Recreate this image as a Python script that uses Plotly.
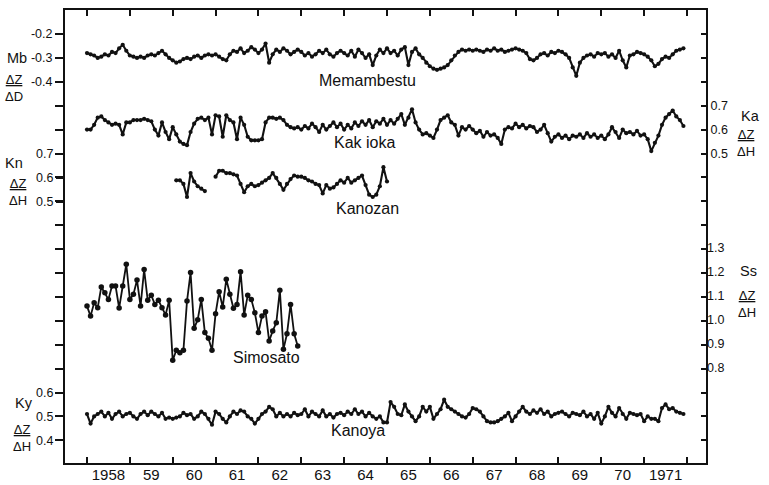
import numpy as np
import plotly.graph_objects as go

# ---------------- data (monthly means) ----------------
year_ticks = list(range(1958, 1973))
year_labels = ["1958", "59", "60", "61", "62", "63", "64", "65", "66", "67", "68", "69", "70", "1971"]

# Memambestu  dZ/dD
mb_start = 1958.0
mb_values = [
    -0.280, -0.285, -0.290, -0.300, -0.295, -0.285, -0.290, -0.275, -0.280, -0.260, -0.245, -0.270,
    -0.290, -0.295, -0.300, -0.295, -0.300, -0.290, -0.285, -0.290, -0.280, -0.270, -0.285, -0.300,
    -0.310, -0.320, -0.315, -0.305, -0.300, -0.305, -0.295, -0.290, -0.300, -0.290, -0.285, -0.290,
    -0.285, -0.295, -0.305, -0.310, -0.285, -0.270, -0.275, -0.260, -0.280, -0.270, -0.255, -0.265,
    -0.280, -0.265, -0.240, -0.320, -0.285, -0.265, -0.275, -0.260, -0.270, -0.285, -0.275, -0.265,
    -0.275, -0.290, -0.280, -0.295, -0.285, -0.270, -0.280, -0.265, -0.285, -0.295, -0.280, -0.270,
    -0.280, -0.290, -0.270, -0.295, -0.265, -0.280, -0.300, -0.285, -0.330, -0.290, -0.265, -0.280,
    -0.260, -0.280, -0.270, -0.290, -0.265, -0.255, -0.330, -0.275, -0.260, -0.285, -0.300, -0.320,
    -0.335, -0.345, -0.350, -0.345, -0.340, -0.330, -0.310, -0.290, -0.275, -0.265, -0.270, -0.265,
    -0.270, -0.265, -0.270, -0.275, -0.265, -0.270, -0.260, -0.270, -0.265, -0.275, -0.270, -0.265,
    -0.260, -0.265, -0.270, -0.280, -0.305, -0.310, -0.300, -0.285, -0.280, -0.290, -0.275, -0.280,
    -0.270, -0.275, -0.285, -0.300, -0.340, -0.375, -0.320, -0.300, -0.290, -0.285, -0.295, -0.280,
    -0.285, -0.280, -0.295, -0.285, -0.300, -0.270, -0.310, -0.340, -0.290, -0.285, -0.275, -0.280,
    -0.285, -0.295, -0.310, -0.335, -0.325, -0.305, -0.295, -0.300, -0.285, -0.270, -0.265, -0.260,
]

# Kakioka  dZ/dH
ka_start = 1958.0
ka_values = [
    0.600, 0.600, 0.620, 0.650, 0.655, 0.640, 0.630, 0.620, 0.625, 0.620, 0.580, 0.630,
    0.630, 0.640, 0.640, 0.640, 0.645, 0.640, 0.635, 0.600, 0.575, 0.630, 0.590, 0.560,
    0.610, 0.580, 0.550, 0.540, 0.535, 0.590, 0.625, 0.645, 0.650, 0.640, 0.650, 0.580,
    0.660, 0.655, 0.570, 0.660, 0.640, 0.630, 0.560, 0.650, 0.620, 0.570, 0.555, 0.555,
    0.555, 0.560, 0.630, 0.650, 0.650, 0.645, 0.650, 0.640, 0.620, 0.610, 0.605, 0.610,
    0.600, 0.615, 0.605, 0.625, 0.610, 0.590, 0.620, 0.600, 0.615, 0.630, 0.610, 0.625,
    0.600, 0.620, 0.605, 0.630, 0.615, 0.635, 0.620, 0.640, 0.610, 0.635, 0.625, 0.645,
    0.620, 0.640, 0.625, 0.645, 0.665, 0.620, 0.650, 0.685, 0.630, 0.600, 0.580, 0.585,
    0.575, 0.565, 0.600, 0.640, 0.650, 0.660, 0.630, 0.620, 0.575, 0.610, 0.600, 0.615,
    0.600, 0.585, 0.595, 0.570, 0.590, 0.575, 0.580, 0.565, 0.540, 0.600, 0.610, 0.605,
    0.625, 0.610, 0.620, 0.605, 0.615, 0.610, 0.590, 0.600, 0.620, 0.585, 0.550, 0.570,
    0.580, 0.565, 0.575, 0.560, 0.575, 0.570, 0.580, 0.565, 0.585, 0.570, 0.580, 0.565,
    0.575, 0.560, 0.580, 0.610, 0.590, 0.565, 0.600, 0.585, 0.590, 0.580, 0.595, 0.575,
    0.580, 0.560, 0.510, 0.545, 0.575, 0.620, 0.650, 0.665, 0.680, 0.655, 0.640, 0.615,
]

# Kanozan  dZ/dH  (starts Feb 1960, gap of two months)
kn_start = 1960.0 + 1 / 12
kn_values = [
    0.590, 0.590, 0.575, 0.520, 0.620, 0.585, 0.565, 0.555, 0.545,
    None, None,
    0.605, 0.630, 0.630, 0.620, 0.620, 0.615, 0.610, 0.575, 0.540, 0.565,
    0.575, 0.565, 0.570, 0.580, 0.590, 0.600, 0.620, 0.600, 0.575, 0.550,
    0.575, 0.595, 0.610, 0.605, 0.605, 0.600, 0.590, 0.585, 0.575, 0.570,
    0.535, 0.570, 0.555, 0.560, 0.575, 0.590, 0.580, 0.600, 0.580, 0.590,
    0.600, 0.610, 0.570, 0.530, 0.520, 0.530, 0.565, 0.645, 0.585,
]

# Simosato  dZ/dH
ss_start = 1958.0
ss_values = [
    1.057, 1.015, 1.071, 1.050, 1.137, 1.113, 1.085, 1.141, 1.141, 1.049, 1.141, 1.232,
    1.085, 1.106, 1.166, 1.057, 1.210, 1.081, 1.102, 1.064, 1.081, 1.050, 1.020, 1.081,
    0.830, 0.872, 0.862, 0.872, 1.078, 1.197, 0.964, 1.000, 1.085, 0.946, 0.922, 0.872,
    1.025, 1.117, 1.053, 1.169, 1.106, 1.048, 1.064, 1.201, 1.020, 1.102, 1.085, 1.029,
    0.946, 1.015, 1.033, 0.911, 0.953, 0.987, 1.123, 0.876, 0.941, 1.064, 0.941, 0.890,
]

# Kanoya  dZ/dH
ky_start = 1958.0
ky_values = [
    0.510, 0.470, 0.500, 0.510, 0.520, 0.500, 0.515, 0.490, 0.510, 0.520, 0.500, 0.510,
    0.515, 0.500, 0.490, 0.510, 0.520, 0.505, 0.520, 0.510, 0.500, 0.515, 0.490, 0.495,
    0.490, 0.495, 0.500, 0.515, 0.505, 0.510, 0.490, 0.500, 0.520, 0.510, 0.490, 0.465,
    0.520, 0.510, 0.490, 0.475, 0.500, 0.520, 0.510, 0.525, 0.520, 0.500, 0.490, 0.470,
    0.490, 0.510, 0.520, 0.540, 0.530, 0.500, 0.515, 0.500, 0.510, 0.500, 0.515, 0.505,
    0.510, 0.530, 0.500, 0.520, 0.510, 0.500, 0.525, 0.500, 0.510, 0.495, 0.510, 0.515,
    0.505, 0.520, 0.510, 0.530, 0.510, 0.520, 0.500, 0.515, 0.500, 0.490, 0.500, 0.475,
    0.475, 0.560, 0.540, 0.510, 0.505, 0.550, 0.520, 0.500, 0.480, 0.500, 0.540, 0.520,
    0.540, 0.490, 0.510, 0.530, 0.570, 0.540, 0.530, 0.520, 0.510, 0.500, 0.495, 0.510,
    0.535, 0.530, 0.520, 0.500, 0.480, 0.475, 0.475, 0.480, 0.490, 0.500, 0.515, 0.480,
    0.500, 0.520, 0.540, 0.520, 0.510, 0.525, 0.515, 0.530, 0.510, 0.520, 0.500, 0.510,
    0.515, 0.520, 0.510, 0.500, 0.515, 0.510, 0.505, 0.520, 0.500, 0.510, 0.490, 0.515,
    0.470, 0.500, 0.540, 0.515, 0.500, 0.535, 0.510, 0.490, 0.515, 0.510, 0.505, 0.510,
    0.480, 0.500, 0.490, 0.490, 0.480, 0.535, 0.550, 0.530, 0.535, 0.520, 0.515, 0.510,
]

# axis tick labels
mb_ticks = [-0.2, -0.3, -0.4]
kn_ticks = [0.7, 0.6, 0.5]
ky_ticks = [0.6, 0.5, 0.4]
ka_ticks = [0.7, 0.6, 0.5]
ss_ticks = [1.3, 1.2, 1.1, 1.0, 0.9, 0.8]

# ---------------- layout geometry (pixels) ----------------
W, H = 769, 485
PL, PR, PT, PB = 65, 706, 10, 463          # plot frame
PX_PER_UNIT = 239.0                         # 0.1 of any ratio = 23.9 px
PX_PER_YEAR = 600 / 14.0
X0_PX = 87                                  # pixel of 1 Jan 1958


def yrange(v_ref, px_ref):
    top = v_ref + (px_ref - PT) / PX_PER_UNIT
    bot = v_ref - (PB - px_ref) / PX_PER_UNIT
    return [bot, top]


xrange_ = [1958 - (X0_PX - PL) / PX_PER_YEAR, 1958 + (PR - X0_PX) / PX_PER_YEAR]
mb_range = yrange(-0.2, 34)
kn_range = yrange(0.7, 154)
ky_range = yrange(0.5, 416.4)
ka_range = yrange(0.7, 105.7)
ss_range = yrange(1.3, 248)


def px(x):
    return (x - PL) / (PR - PL)


def py(y):
    return (PB - y) / (PB - PT)


def months(start, n):
    return [start + i / 12 for i in range(n)]


INK = "#111111"
FONT = "Liberation Sans"

fig = go.Figure()


def add_series(vals, start, yaxis, msize=4.2, lw=2.1):
    fig.add_trace(go.Scatter(
        x=months(start, len(vals)), y=vals, xaxis="x", yaxis=yaxis,
        mode="lines+markers", connectgaps=False,
        line=dict(color=INK, width=lw), marker=dict(color=INK, size=msize),
        showlegend=False, hoverinfo="x+y"))


add_series(mb_values, mb_start, "y")
add_series(kn_values, kn_start, "y2")
add_series(ky_values, ky_start, "y3")
add_series(ka_values, ka_start, "y4")
add_series(ss_values, ss_start, "y5", msize=5.5, lw=1.8)

# left ticks: every 0.1 on the Mb scale
mb_all = [round(-0.2 - 0.1 * j, 2) for j in range(18)]
mb_text = [("%.1f" % v) if v in mb_ticks else "" for v in mb_all]
ka_all = [round(1.0 - 0.1 * j, 2) for j in range(18)]
ka_text = [("%.1f" % v) if v in ka_ticks else "" for v in ka_all]

tickfont = dict(family=FONT, size=12.5, color=INK)
common_y = dict(showgrid=False, zeroline=False, fixedrange=True, tickfont=tickfont, automargin=False)

fig.update_layout(
    width=W, height=H,
    margin=dict(l=PL, r=W - PR, t=PT, b=H - PB, pad=0),
    paper_bgcolor="white", plot_bgcolor="white",
    showlegend=False,
    xaxis=dict(range=xrange_, showgrid=False, zeroline=False, showline=True, linewidth=2,
               linecolor=INK, mirror="ticks",
               tickmode="array", tickvals=[y + 0.5 for y in year_ticks[:-1]], ticktext=year_labels,
               ticks="", ticklabelstandoff=-3, tickfont=dict(family=FONT, size=15, color=INK),
               minor=dict(tickmode="array", tickvals=year_ticks, ticks="inside", ticklen=6,
                          tickwidth=1.6, tickcolor=INK),
               automargin=False),
    yaxis=dict(range=mb_range, side="left", showline=True, linewidth=2, linecolor=INK,
               tickmode="array", tickvals=mb_all, ticktext=mb_text,
               ticks="outside", ticklen=8, tickwidth=1.6, tickcolor=INK, **common_y),
    yaxis2=dict(range=kn_range, overlaying="y", side="left", showline=False,
                tickmode="array", tickvals=kn_ticks, ticktext=["%.1f" % v for v in kn_ticks],
                ticks="outside", ticklen=8, tickwidth=1.6, tickcolor=INK, **common_y),
    yaxis3=dict(range=ky_range, overlaying="y", side="left", showline=False,
                tickmode="array", tickvals=ky_ticks, ticktext=["%.1f" % v for v in ky_ticks],
                ticks="outside", ticklen=8, tickwidth=1.6, tickcolor=INK, **common_y),
    yaxis4=dict(range=ka_range, overlaying="y", side="right", showline=True, linewidth=2,
                linecolor=INK, tickmode="array", tickvals=ka_all, ticktext=ka_text,
                ticks="inside", ticklen=5, tickwidth=1.6, tickcolor=INK, **common_y),
    yaxis5=dict(range=ss_range, overlaying="y", side="right", showline=False,
                tickmode="array", tickvals=ss_ticks, ticktext=["%.1f" % v for v in ss_ticks],
                ticks="", **common_y),
)

ann = []


def label(text, x, y, size=14.5):
    ann.append(dict(text=text, x=px(x), y=py(y), xref="paper", yref="paper",
                    showarrow=False, xanchor="center", yanchor="middle",
                    font=dict(family=FONT, size=size, color=INK)))


frac_dd = "<u>ΔZ</u><br>ΔD"
frac_dh = "<u>ΔZ</u><br>ΔH"
label("Mb", 17, 58)
label(frac_dd, 14, 88, 13)
label("Kn", 14, 163)
label(frac_dh, 18, 192, 13)
label("Ky", 24, 403)
label(frac_dh, 22, 438, 13)
label("Ka", 750, 116)
label(frac_dh, 746, 143, 13)
label("Ss", 748, 271)
label(frac_dh, 747, 304, 13)

label("Memambestu", 367, 80, 16)
label("Kak ioka", 364, 143, 16)
label("Kanozan", 367, 208, 16)
label("Simosato", 266, 357, 16)
label("Kanoya", 358, 430, 16)

fig.update_layout(annotations=ann)
fig.write_html("out.html")
